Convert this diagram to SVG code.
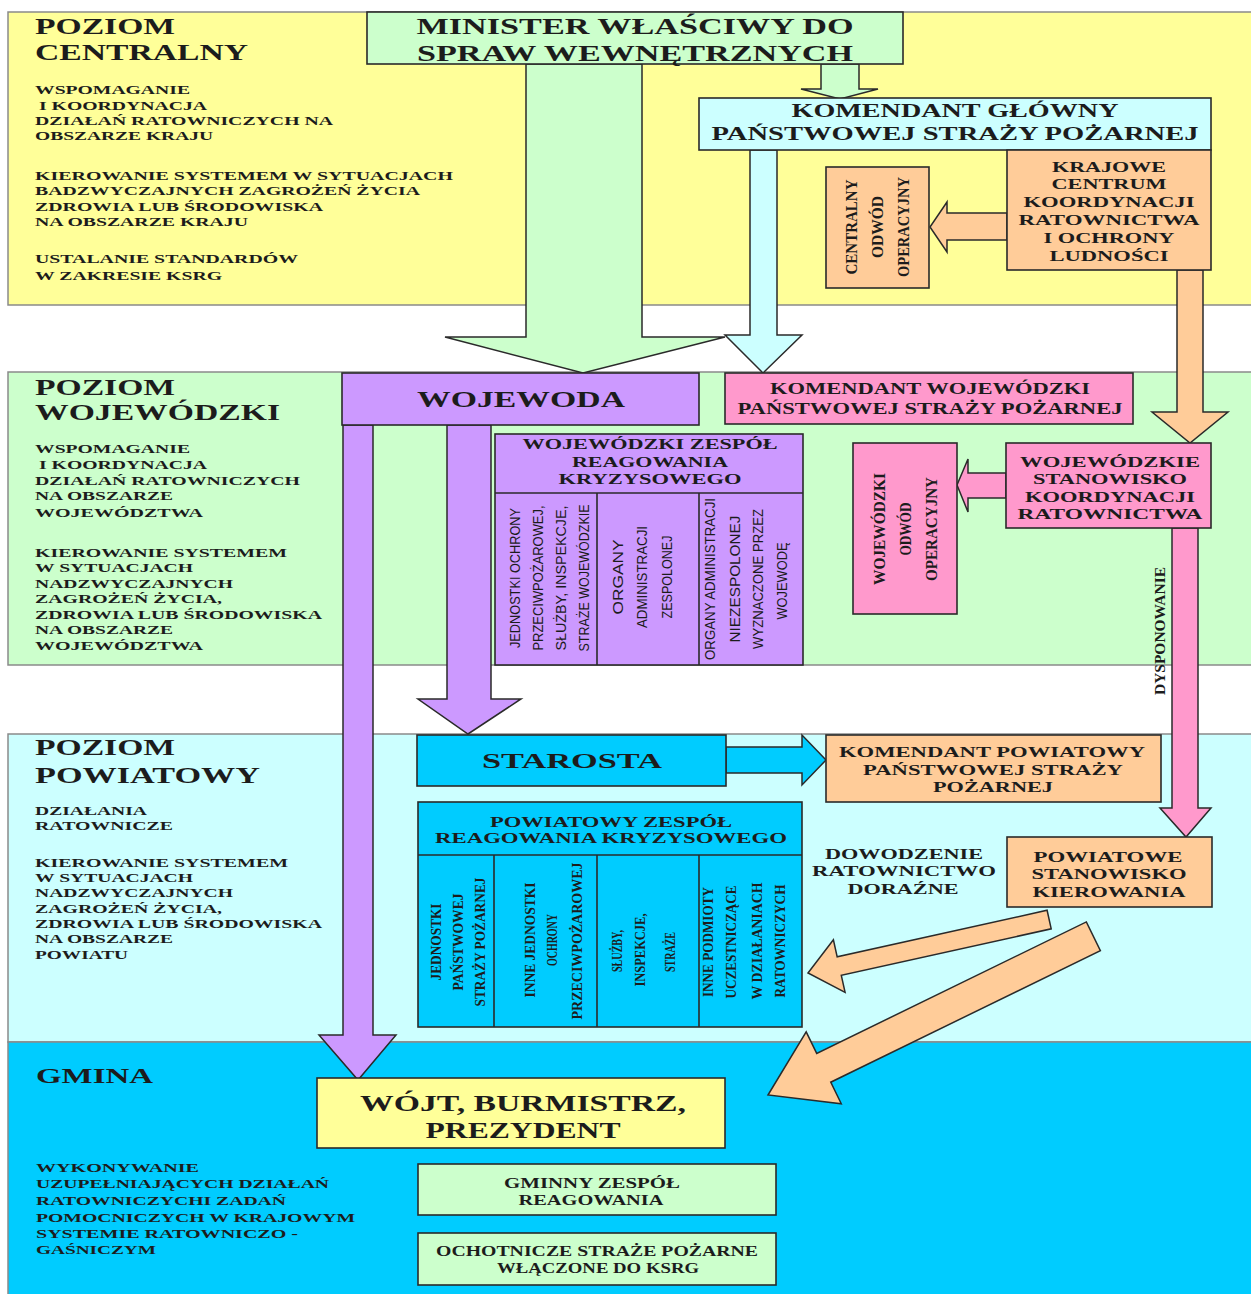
<svg xmlns="http://www.w3.org/2000/svg" width="1251" height="1294" viewBox="0 0 1251 1294">
<style>
.band{stroke:#8a8a8a;stroke-width:1.5}
.box{stroke:#2a2a2a;stroke-width:1.6}
.arr{stroke:#2a2a2a;stroke-width:1.5;stroke-linejoin:miter}
.div{stroke:#2a2a2a;stroke-width:1.6;fill:none}
text{font-family:"Liberation Serif","Times New Roman",serif;font-weight:bold;fill:#1c1c1c}
.m{text-anchor:middle}
.lvl{font-size:24px}
.s{font-size:13px}
.n{font-family:"Liberation Sans Narrow","Liberation Sans",Arial,sans-serif;font-weight:normal;font-size:14px}
.yel{fill:#FFFF99}.grn{fill:#CCFFCC}.lcy{fill:#CCFFFF}.cy{fill:#00CCFF}.org{fill:#FFCC99}.pur{fill:#CC99FF}.pnk{fill:#FF99CC}
</style>

<!-- level bands -->
<g id="bands">
<rect class="band yel" x="8" y="12" width="1250" height="293"/>
<rect class="band grn" x="8" y="372" width="1250" height="293"/>
<rect class="band lcy" x="8" y="734" width="1250" height="308"/>
<rect class="band cy" x="8" y="1042" width="1250" height="260"/>
</g>

<g id="level-central">
<text class="lvl" x="35" y="34" textLength="140" lengthAdjust="spacingAndGlyphs">POZIOM</text>
<text class="lvl" x="35" y="60" textLength="213" lengthAdjust="spacingAndGlyphs">CENTRALNY</text>
<text class="s" x="35" y="94" textLength="155" lengthAdjust="spacingAndGlyphs">WSPOMAGANIE</text>
<text class="s" x="39" y="110" textLength="168" lengthAdjust="spacingAndGlyphs">I KOORDYNACJA</text>
<text class="s" x="35" y="125" textLength="298" lengthAdjust="spacingAndGlyphs">DZIAŁAŃ RATOWNICZYCH NA</text>
<text class="s" x="35" y="140" textLength="178" lengthAdjust="spacingAndGlyphs">OBSZARZE KRAJU</text>
<text class="s" x="35" y="180" textLength="418" lengthAdjust="spacingAndGlyphs">KIEROWANIE SYSTEMEM W SYTUACJACH</text>
<text class="s" x="35" y="195" textLength="385" lengthAdjust="spacingAndGlyphs">BADZWYCZAJNYCH ZAGROŻEŃ ŻYCIA</text>
<text class="s" x="35" y="211" textLength="288" lengthAdjust="spacingAndGlyphs">ZDROWIA LUB ŚRODOWISKA</text>
<text class="s" x="35" y="226" textLength="213" lengthAdjust="spacingAndGlyphs">NA OBSZARZE KRAJU</text>
<text class="s" x="35" y="263" textLength="263" lengthAdjust="spacingAndGlyphs">USTALANIE STANDARDÓW</text>
<text class="s" x="35" y="280" textLength="187" lengthAdjust="spacingAndGlyphs">W ZAKRESIE KSRG</text>
</g>

<g id="level-woj">
<text class="lvl" x="35" y="395" textLength="140" lengthAdjust="spacingAndGlyphs">POZIOM</text>
<text class="lvl" x="35" y="420" textLength="245" lengthAdjust="spacingAndGlyphs">WOJEWÓDZKI</text>
<text class="s" x="35" y="453" textLength="155" lengthAdjust="spacingAndGlyphs">WSPOMAGANIE</text>
<text class="s" x="39" y="469" textLength="168" lengthAdjust="spacingAndGlyphs">I KOORDYNACJA</text>
<text class="s" x="35" y="485" textLength="265" lengthAdjust="spacingAndGlyphs">DZIAŁAŃ RATOWNICZYCH</text>
<text class="s" x="35" y="500" textLength="138" lengthAdjust="spacingAndGlyphs">NA OBSZARZE</text>
<text class="s" x="35" y="517" textLength="168" lengthAdjust="spacingAndGlyphs">WOJEWÓDZTWA</text>
<text class="s" x="35" y="557" textLength="252" lengthAdjust="spacingAndGlyphs">KIEROWANIE SYSTEMEM</text>
<text class="s" x="35" y="572" textLength="158" lengthAdjust="spacingAndGlyphs">W SYTUACJACH</text>
<text class="s" x="35" y="588" textLength="198" lengthAdjust="spacingAndGlyphs">NADZWYCZAJNYCH</text>
<text class="s" x="35" y="603" textLength="187" lengthAdjust="spacingAndGlyphs">ZAGROŻEŃ ŻYCIA,</text>
<text class="s" x="35" y="619" textLength="287" lengthAdjust="spacingAndGlyphs">ZDROWIA LUB ŚRODOWISKA</text>
<text class="s" x="35" y="634" textLength="138" lengthAdjust="spacingAndGlyphs">NA OBSZARZE</text>
<text class="s" x="35" y="650" textLength="168" lengthAdjust="spacingAndGlyphs">WOJEWÓDZTWA</text>
</g>

<g id="level-pow">
<text class="lvl" x="35" y="755" textLength="140" lengthAdjust="spacingAndGlyphs">POZIOM</text>
<text class="lvl" x="35" y="783" textLength="225" lengthAdjust="spacingAndGlyphs">POWIATOWY</text>
<text class="s" x="35" y="815" textLength="112" lengthAdjust="spacingAndGlyphs">DZIAŁANIA</text>
<text class="s" x="35" y="830" textLength="138" lengthAdjust="spacingAndGlyphs">RATOWNICZE</text>
<text class="s" x="35" y="867" textLength="253" lengthAdjust="spacingAndGlyphs">KIEROWANIE SYSTEMEM</text>
<text class="s" x="35" y="882" textLength="158" lengthAdjust="spacingAndGlyphs">W SYTUACJACH</text>
<text class="s" x="35" y="897" textLength="198" lengthAdjust="spacingAndGlyphs">NADZWYCZAJNYCH</text>
<text class="s" x="35" y="913" textLength="187" lengthAdjust="spacingAndGlyphs">ZAGROŻEŃ ŻYCIA,</text>
<text class="s" x="35" y="928" textLength="287" lengthAdjust="spacingAndGlyphs">ZDROWIA LUB ŚRODOWISKA</text>
<text class="s" x="35" y="943" textLength="138" lengthAdjust="spacingAndGlyphs">NA OBSZARZE</text>
<text class="s" x="35" y="959" textLength="93" lengthAdjust="spacingAndGlyphs">POWIATU</text>
</g>

<g id="level-gmina">
<text style="font-size:22px" x="36" y="1083" textLength="117" lengthAdjust="spacingAndGlyphs">GMINA</text>
<text class="s" x="36" y="1172" textLength="163" lengthAdjust="spacingAndGlyphs">WYKONYWANIE</text>
<text class="s" x="36" y="1188" textLength="293" lengthAdjust="spacingAndGlyphs">UZUPEŁNIAJĄCYCH DZIAŁAŃ</text>
<text class="s" x="36" y="1205" textLength="250" lengthAdjust="spacingAndGlyphs">RATOWNICZYCHI ZADAŃ</text>
<text class="s" x="36" y="1222" textLength="319" lengthAdjust="spacingAndGlyphs">POMOCNICZYCH W KRAJOWYM</text>
<text class="s" x="36" y="1238" textLength="262" lengthAdjust="spacingAndGlyphs">SYSTEMIE RATOWNICZO -</text>
<text class="s" x="36" y="1254" textLength="120" lengthAdjust="spacingAndGlyphs">GAŚNICZYM</text>
</g>

<!-- connectors (block arrows) -->
<g id="connectors">
<polygon class="arr grn" points="526,64 642,64 642,337 725,337 583,373 445,337 526,337"/>
<polygon class="arr grn" points="821,64 859,64 859,89 878,89 840,99 801,89 821,89"/>
<polygon class="arr lcy" points="750,150 777,150 777,335 802,335 763,373 725,335 750,335"/>
<polygon class="arr org" points="1007,213 947,213 947,202 930,227 947,252 947,240 1007,240"/>
<polygon class="arr org" points="1177,270 1203,270 1203,412 1228,412 1190,443 1152,412 1177,412"/>
<polygon class="arr pur" points="343,425 373,425 373,1035 396,1035 358,1080 319,1035 343,1035"/>
<polygon class="arr pur" points="447,425 491,425 491,699 521,699 468,734 418,699 447,699"/>
<polygon class="arr pnk" points="1006,473 968,473 968,459 957,485 968,512 968,498 1006,498"/>
<polygon class="arr pnk" points="1172,528 1198,528 1198,808 1211,808 1186,837 1160,808 1172,808"/>
<polygon class="arr cy" points="726,747 802,747 802,735 826,760 802,785 802,773 726,773"/>
<polygon class="arr org" transform="translate(808,973) rotate(-12.5)" points="0,0 32,-27 32,-9.5 247,-9.5 247,9.5 32,9.5 32,27"/>
<polygon class="arr org" transform="translate(768,1095) rotate(-26)" points="0,0 62,-40 62,-16 362,-16 362,16 62,16 62,40"/>
<text style="font-size:14px" transform="translate(1165,631) rotate(-90)" text-anchor="middle" textLength="128" lengthAdjust="spacingAndGlyphs">DYSPONOWANIE</text>
</g>

<!-- central nodes -->
<g id="minister">
<rect class="box grn" x="367" y="12" width="536" height="52"/>
<text class="m" style="font-size:23px" x="635" y="34" textLength="437" lengthAdjust="spacingAndGlyphs">MINISTER WŁAŚCIWY DO</text>
<text class="m" style="font-size:23px" x="635" y="61" textLength="436" lengthAdjust="spacingAndGlyphs">SPRAW WEWNĘTRZNYCH</text>
</g>
<g id="komendant-glowny">
<rect class="box lcy" x="699" y="98" width="512" height="52"/>
<text class="m" style="font-size:19px" x="955" y="117" textLength="327" lengthAdjust="spacingAndGlyphs">KOMENDANT GŁÓWNY</text>
<text class="m" style="font-size:19px" x="955" y="140" textLength="487" lengthAdjust="spacingAndGlyphs">PAŃSTWOWEJ STRAŻY POŻARNEJ</text>
</g>
<g id="krajowe-centrum">
<rect class="box org" x="1007" y="150" width="204" height="120"/>
<text class="m" style="font-size:15px" x="1109" y="172" textLength="114" lengthAdjust="spacingAndGlyphs">KRAJOWE</text>
<text class="m" style="font-size:15px" x="1109" y="189" textLength="115" lengthAdjust="spacingAndGlyphs">CENTRUM</text>
<text class="m" style="font-size:15px" x="1109" y="207" textLength="171" lengthAdjust="spacingAndGlyphs">KOORDYNACJI</text>
<text class="m" style="font-size:15px" x="1109" y="225" textLength="181" lengthAdjust="spacingAndGlyphs">RATOWNICTWA</text>
<text class="m" style="font-size:15px" x="1109" y="243" textLength="131" lengthAdjust="spacingAndGlyphs">I OCHRONY</text>
<text class="m" style="font-size:15px" x="1109" y="261" textLength="119" lengthAdjust="spacingAndGlyphs">LUDNOŚCI</text>
</g>
<g id="centralny-odwod">
<rect class="box org" x="826" y="167" width="103" height="121"/>
<text style="font-size:16px" transform="translate(857,227) rotate(-90)" text-anchor="middle" textLength="95" lengthAdjust="spacingAndGlyphs">CENTRALNY</text>
<text style="font-size:16px" transform="translate(883,227) rotate(-90)" text-anchor="middle" textLength="62" lengthAdjust="spacingAndGlyphs">ODWÓD</text>
<text style="font-size:16px" transform="translate(909,227) rotate(-90)" text-anchor="middle" textLength="100" lengthAdjust="spacingAndGlyphs">OPERACYJNY</text>
</g>

<!-- wojewodzki nodes -->
<g id="wojewoda">
<rect class="box pur" x="342" y="373" width="357" height="52"/>
<text class="m" style="font-size:24px" x="521" y="407" textLength="208" lengthAdjust="spacingAndGlyphs">WOJEWODA</text>
</g>
<g id="komendant-wojewodzki">
<rect class="box pnk" x="725" y="373" width="408" height="51"/>
<text class="m" style="font-size:16px" x="930" y="394" textLength="320" lengthAdjust="spacingAndGlyphs">KOMENDANT WOJEWÓDZKI</text>
<text class="m" style="font-size:16px" x="930" y="414" textLength="385" lengthAdjust="spacingAndGlyphs">PAŃSTWOWEJ STRAŻY POŻARNEJ</text>
</g>
<g id="wojewodzki-zespol">
<rect class="box pur" x="495" y="434" width="308" height="231"/>
<line class="div" x1="495" y1="493" x2="803" y2="493"/>
<line class="div" x1="597" y1="493" x2="597" y2="665"/>
<line class="div" x1="699" y1="493" x2="699" y2="665"/>
<text class="m" style="font-size:15px" x="650" y="449" textLength="255" lengthAdjust="spacingAndGlyphs">WOJEWÓDZKI ZESPÓŁ</text>
<text class="m" style="font-size:15px" x="650" y="467" textLength="156" lengthAdjust="spacingAndGlyphs">REAGOWANIA</text>
<text class="m" style="font-size:15px" x="650" y="484" textLength="183" lengthAdjust="spacingAndGlyphs">KRYZYSOWEGO</text>
<text class="n" transform="translate(520,578) rotate(-90)" text-anchor="middle" textLength="140" lengthAdjust="spacingAndGlyphs">JEDNOSTKI OCHRONY</text>
<text class="n" transform="translate(543,578) rotate(-90)" text-anchor="middle" textLength="145" lengthAdjust="spacingAndGlyphs">PRZECIWPOŻAROWEJ,</text>
<text class="n" transform="translate(566,578) rotate(-90)" text-anchor="middle" textLength="145" lengthAdjust="spacingAndGlyphs">SŁUŻBY, INSPEKCJE,</text>
<text class="n" transform="translate(589,578) rotate(-90)" text-anchor="middle" textLength="147" lengthAdjust="spacingAndGlyphs">STRAŻE WOJEWÓDZKIE</text>
<text class="n" transform="translate(623,577) rotate(-90)" text-anchor="middle" textLength="75" lengthAdjust="spacingAndGlyphs">ORGANY</text>
<text class="n" transform="translate(647,577) rotate(-90)" text-anchor="middle" textLength="102" lengthAdjust="spacingAndGlyphs">ADMINISTRACJI</text>
<text class="n" transform="translate(672,577) rotate(-90)" text-anchor="middle" textLength="83" lengthAdjust="spacingAndGlyphs">ZESPOLONEJ</text>
<text class="n" transform="translate(715,579) rotate(-90)" text-anchor="middle" textLength="162" lengthAdjust="spacingAndGlyphs">ORGANY ADMINISTRACJI</text>
<text class="n" transform="translate(740,579) rotate(-90)" text-anchor="middle" textLength="127" lengthAdjust="spacingAndGlyphs">NIEZESPOLONEJ</text>
<text class="n" transform="translate(763,579) rotate(-90)" text-anchor="middle" textLength="140" lengthAdjust="spacingAndGlyphs">WYZNACZONE PRZEZ</text>
<text class="n" transform="translate(787,581) rotate(-90)" text-anchor="middle" textLength="77" lengthAdjust="spacingAndGlyphs">WOJEWODĘ</text>
</g>
<g id="wojewodzkie-stanowisko">
<rect class="box pnk" x="1006" y="443" width="205" height="85"/>
<text class="m" style="font-size:15px" x="1110" y="467" textLength="180" lengthAdjust="spacingAndGlyphs">WOJEWÓDZKIE</text>
<text class="m" style="font-size:15px" x="1110" y="484" textLength="154" lengthAdjust="spacingAndGlyphs">STANOWISKO</text>
<text class="m" style="font-size:15px" x="1110" y="502" textLength="170" lengthAdjust="spacingAndGlyphs">KOORDYNACJI</text>
<text class="m" style="font-size:15px" x="1110" y="519" textLength="185" lengthAdjust="spacingAndGlyphs">RATOWNICTWA</text>
</g>
<g id="wojewodzki-odwod">
<rect class="box pnk" x="853" y="443" width="104" height="171"/>
<text style="font-size:16px" transform="translate(885,529) rotate(-90)" text-anchor="middle" textLength="112" lengthAdjust="spacingAndGlyphs">WOJEWÓDZKI</text>
<text style="font-size:16px" transform="translate(911,529) rotate(-90)" text-anchor="middle" textLength="53" lengthAdjust="spacingAndGlyphs">ODWÓD</text>
<text style="font-size:16px" transform="translate(937,529) rotate(-90)" text-anchor="middle" textLength="104" lengthAdjust="spacingAndGlyphs">OPERACYJNY</text>
</g>

<!-- powiatowy nodes -->
<g id="starosta">
<rect class="box cy" x="417" y="735" width="309" height="51"/>
<text class="m" style="font-size:22px" x="572" y="768" textLength="180" lengthAdjust="spacingAndGlyphs">STAROSTA</text>
</g>
<g id="komendant-powiatowy">
<rect class="box org" x="826" y="735" width="335" height="67"/>
<text class="m" style="font-size:15px" x="992" y="757" textLength="306" lengthAdjust="spacingAndGlyphs">KOMENDANT POWIATOWY</text>
<text class="m" style="font-size:15px" x="993" y="775" textLength="260" lengthAdjust="spacingAndGlyphs">PAŃSTWOWEJ STRAŻY</text>
<text class="m" style="font-size:15px" x="993" y="792" textLength="120" lengthAdjust="spacingAndGlyphs">POŻARNEJ</text>
</g>
<g id="powiatowy-zespol">
<rect class="box cy" x="418" y="802" width="384" height="225"/>
<line class="div" x1="418" y1="855" x2="802" y2="855"/>
<line class="div" x1="494" y1="855" x2="494" y2="1027"/>
<line class="div" x1="597" y1="855" x2="597" y2="1027"/>
<line class="div" x1="699" y1="855" x2="699" y2="1027"/>
<text class="m" style="font-size:15px" x="611" y="827" textLength="242" lengthAdjust="spacingAndGlyphs">POWIATOWY ZESPÓŁ</text>
<text class="m" style="font-size:15px" x="611" y="843" textLength="352" lengthAdjust="spacingAndGlyphs">REAGOWANIA KRYZYSOWEGO</text>
<text style="font-size:15px" transform="translate(441,942) rotate(-90)" text-anchor="middle" textLength="77" lengthAdjust="spacingAndGlyphs">JEDNOSTKI</text>
<text style="font-size:15px" transform="translate(463,942) rotate(-90)" text-anchor="middle" textLength="97" lengthAdjust="spacingAndGlyphs">PAŃSTWOWEJ</text>
<text style="font-size:15px" transform="translate(485,942) rotate(-90)" text-anchor="middle" textLength="129" lengthAdjust="spacingAndGlyphs">STRAŻY POŻARNEJ</text>
<text style="font-size:15px" transform="translate(535,940) rotate(-90)" text-anchor="middle" textLength="115" lengthAdjust="spacingAndGlyphs">INNE JEDNOSTKI</text>
<text style="font-size:15px" transform="translate(557,940) rotate(-90)" text-anchor="middle" textLength="52" lengthAdjust="spacingAndGlyphs">OCHRONY</text>
<text style="font-size:15px" transform="translate(582,941) rotate(-90)" text-anchor="middle" textLength="157" lengthAdjust="spacingAndGlyphs">PRZECIWPOŻAROWEJ</text>
<text style="font-size:15px" transform="translate(622,951) rotate(-90)" text-anchor="middle" textLength="42" lengthAdjust="spacingAndGlyphs">SŁUŻBY,</text>
<text style="font-size:15px" transform="translate(645,950) rotate(-90)" text-anchor="middle" textLength="73" lengthAdjust="spacingAndGlyphs">INSPEKCJE,</text>
<text style="font-size:15px" transform="translate(675,952) rotate(-90)" text-anchor="middle" textLength="40" lengthAdjust="spacingAndGlyphs">STRAŻE</text>
<text style="font-size:15px" transform="translate(713,942) rotate(-90)" text-anchor="middle" textLength="110" lengthAdjust="spacingAndGlyphs">INNE PODMIOTY</text>
<text style="font-size:15px" transform="translate(736,942) rotate(-90)" text-anchor="middle" textLength="113" lengthAdjust="spacingAndGlyphs">UCZESTNICZĄCE</text>
<text style="font-size:15px" transform="translate(762,941) rotate(-90)" text-anchor="middle" textLength="117" lengthAdjust="spacingAndGlyphs">W DZIAŁANIACH</text>
<text style="font-size:15px" transform="translate(785,941) rotate(-90)" text-anchor="middle" textLength="113" lengthAdjust="spacingAndGlyphs">RATOWNICZYCH</text>
</g>
<g id="dowodzenie">
<text class="m" style="font-size:15px" x="904" y="859" textLength="158" lengthAdjust="spacingAndGlyphs">DOWODZENIE</text>
<text class="m" style="font-size:15px" x="904" y="876" textLength="184" lengthAdjust="spacingAndGlyphs">RATOWNICTWO</text>
<text class="m" style="font-size:15px" x="903" y="894" textLength="111" lengthAdjust="spacingAndGlyphs">DORAŹNE</text>
</g>
<g id="powiatowe-stanowisko">
<rect class="box org" x="1007" y="837" width="205" height="70"/>
<text class="m" style="font-size:15px" x="1108" y="862" textLength="149" lengthAdjust="spacingAndGlyphs">POWIATOWE</text>
<text class="m" style="font-size:15px" x="1109" y="879" textLength="155" lengthAdjust="spacingAndGlyphs">STANOWISKO</text>
<text class="m" style="font-size:15px" x="1109" y="897" textLength="153" lengthAdjust="spacingAndGlyphs">KIEROWANIA</text>
</g>

<!-- gmina nodes -->
<g id="wojt">
<rect class="box yel" x="317" y="1078" width="408" height="70"/>
<text class="m" style="font-size:23px" x="523" y="1111" textLength="326" lengthAdjust="spacingAndGlyphs">WÓJT, BURMISTRZ,</text>
<text class="m" style="font-size:23px" x="523" y="1138" textLength="195" lengthAdjust="spacingAndGlyphs">PREZYDENT</text>
</g>
<g id="gminny-zespol">
<rect class="box grn" x="418" y="1164" width="358" height="51"/>
<text class="m" style="font-size:14px" x="592" y="1188" textLength="176" lengthAdjust="spacingAndGlyphs">GMINNY ZESPÓŁ</text>
<text class="m" style="font-size:14px" x="591" y="1205" textLength="145" lengthAdjust="spacingAndGlyphs">REAGOWANIA</text>
</g>
<g id="osp">
<rect class="box grn" x="418" y="1233" width="358" height="52"/>
<text class="m" style="font-size:14px" x="597" y="1256" textLength="322" lengthAdjust="spacingAndGlyphs">OCHOTNICZE STRAŻE POŻARNE</text>
<text class="m" style="font-size:14px" x="598" y="1273" textLength="202" lengthAdjust="spacingAndGlyphs">WŁĄCZONE DO KSRG</text>
</g>
</svg>
